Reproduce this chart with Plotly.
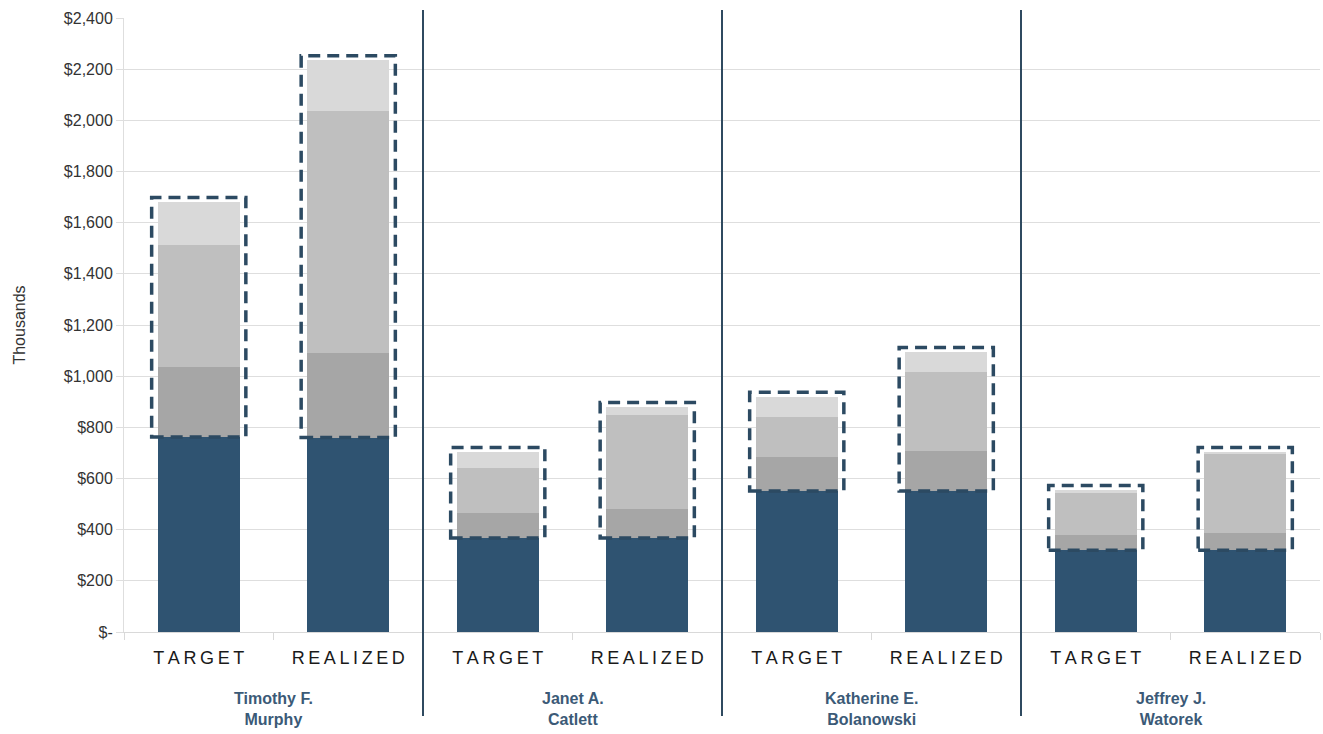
import plotly.graph_objects as go

names = ["Timothy F.<br>Murphy", "Janet A.<br>Catlett", "Katherine E.<br>Bolanowski", "Jeffrey J.<br>Watorek"]
kinds = ["TARGET", "REALIZED"]

# stacked segments (thousands), order: TARGET, REALIZED for each person
base =      [762, 760, 367, 367, 551, 551, 320, 320]
dark_gray = [275, 330, 98, 113, 133, 156, 59, 67]
mid_gray =  [475, 945, 175, 368, 156, 309, 164, 311]
light_gray= [168, 199, 63, 31, 79, 78, 12, 5]
box_pad = 18

colors = {"base": "#2f5371", "dark": "#a6a6a6", "mid": "#bfbfbf", "light": "#d9d9d9"}
box_color = "#2c4a62"
bar_w = 0.55

n = len(base)
xs = list(range(n))
tick_text = ["\u2009".join(kinds[i % 2]) for i in xs]

fig = go.Figure()
for vals, key in [(base, "base"), (dark_gray, "dark"), (mid_gray, "mid"), (light_gray, "light")]:
    fig.add_trace(go.Bar(x=xs, y=vals, width=bar_w, marker=dict(color=colors[key], line=dict(width=0)),
                         showlegend=False, hoverinfo="skip"))

shapes = []
for i in xs:
    top = base[i] + dark_gray[i] + mid_gray[i] + light_gray[i] + box_pad
    shapes.append(dict(type="rect", xref="x", yref="y",
                       x0=i - bar_w / 2 - 0.04, x1=i + bar_w / 2 + 0.04,
                       y0=base[i], y1=top,
                       line=dict(color=box_color, width=3.5, dash="12px,7px"),
                       fillcolor="rgba(0,0,0,0)", layer="above"))
for g in range(1, len(names)):
    shapes.append(dict(type="line", xref="x", yref="paper", x0=2 * g - 0.5, x1=2 * g - 0.5,
                       y0=-0.137, y1=1.013, line=dict(color="#2f4a60", width=2)))

annotations = []
for g, nm in enumerate(names):
    annotations.append(dict(x=2 * g + 0.5, y=-0.092, xref="x", yref="paper", text="<b>" + nm + "</b>",
                            showarrow=False, yanchor="top", xanchor="center",
                            font=dict(family="Liberation Sans, Arial", size=16, color="#3b5a77")))

yvals = list(range(0, 2401, 200))
ytext = ["$-" if v == 0 else "${:,}".format(v) for v in yvals]

fig.update_layout(
    width=1323, height=734,
    margin=dict(l=124, r=3, t=18, b=102),
    plot_bgcolor="white", paper_bgcolor="white",
    barmode="stack", bargap=0,
    shapes=shapes, annotations=annotations,
    font=dict(family="Liberation Sans, Arial", color="#222222"),
    xaxis=dict(range=[-0.5, n - 0.5], tickvals=xs, ticktext=tick_text, ticks="",
               tickfont=dict(size=18, color="#1a1a1a"), showgrid=False, ticklabelstandoff=9,
               showline=True, linecolor="#d9d9d9", linewidth=1, zeroline=False,
               minor=dict(tickvals=[i - 0.5 for i in range(n + 1)], ticks="outside", ticklen=7,
                          tickcolor="#d9d9d9", showgrid=False)),
    yaxis=dict(range=[0, 2400], tickvals=yvals, ticktext=ytext, showgrid=True, gridcolor="#dedede",
               gridwidth=1, ticks="outside", ticklen=7, tickcolor="#dedede",
               showline=True, linecolor="#dedede", zeroline=False,
               tickfont=dict(size=16, color="#333333"),
               title=dict(text="Thousands", font=dict(size=16, color="#333333"), standoff=34)),
)

fig.write_html("out.html")
